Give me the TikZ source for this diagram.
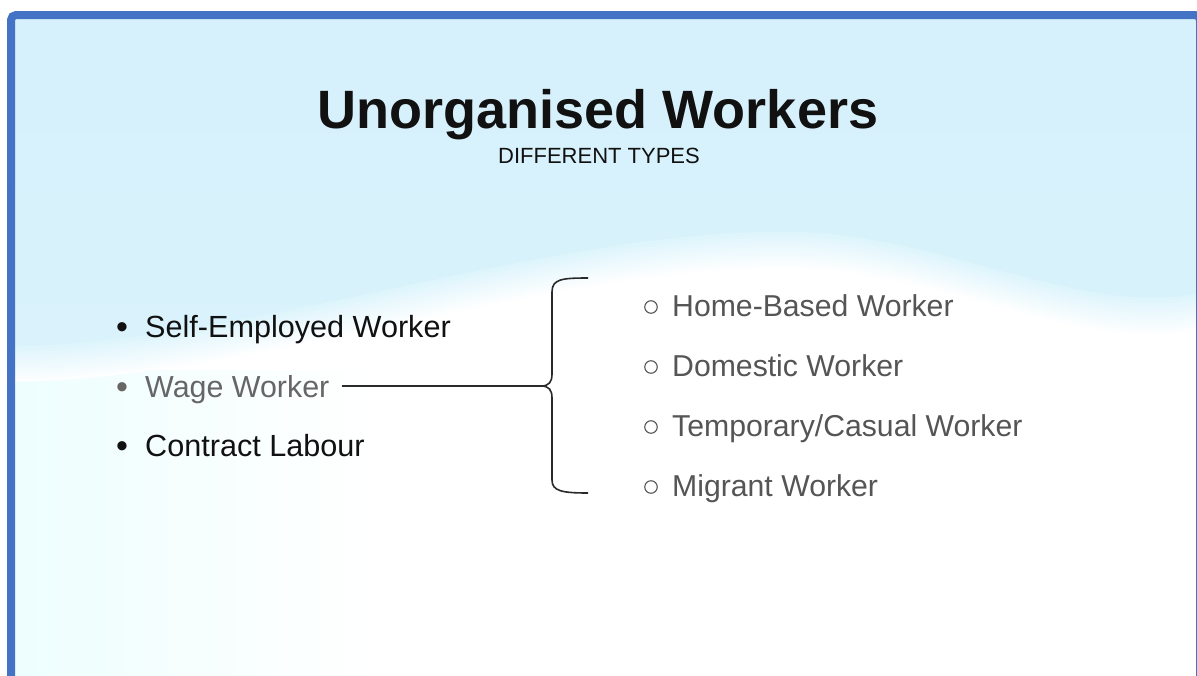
\documentclass[tikz,border=0pt]{standalone}
\usepackage{fontspec}
\setmainfont{Liberation Sans}
\definecolor{frameblue}{HTML}{4472C4}
\definecolor{skytop}{HTML}{D6F1FC}
\definecolor{skybot}{HTML}{DCF4FC}
\definecolor{lowcyan}{HTML}{EEFEFE}
\definecolor{txtdark}{HTML}{111111}
\definecolor{txtgray}{HTML}{666666}
\definecolor{subgray}{HTML}{555555}
\definecolor{linegray}{HTML}{2A2A2A}
\tikzset{
  titletext/.style={font=\fontsize{54}{60}\selectfont\bfseries, text=txtdark, inner sep=0pt},
  subtext/.style={font=\fontsize{22}{26}\selectfont, text=txtdark, inner sep=0pt},
  itemdark/.style={font=\fontsize{30.6}{36}\selectfont, text=txtdark, inner sep=0pt, anchor=base west},
  itemgray/.style={font=\fontsize{30.4}{36}\selectfont, text=txtgray, inner sep=0pt, anchor=base west},
  subitem/.style={font=\fontsize{30.2}{36}\selectfont, text=subgray, inner sep=0pt, anchor=base west},
  bulletmark/.style={font=\fontsize{34}{36}\selectfont, inner sep=0pt, anchor=base west},
  ring/.style={circle, draw=subgray, line width=1.1pt, minimum size=12.5pt, inner sep=0pt},
  bracepath/.style={draw=linegray, line width=1.6pt},
  connline/.style={draw=linegray, line width=1.2pt}
}
\newcommand{\wavepath}[1]{(15,382+#1) .. controls (250,380+#1) and (560,262+#1) .. (800,268+#1) .. controls (950,274+#1) and (1080,352+#1) .. (1197,330+#1) -- (1210,330+#1) -- (1210,700) -- (15,700) -- cycle}
\begin{document}
\begin{tikzpicture}[x=1pt,y=-1pt]
\useasboundingbox (0,0) rectangle (1197,675);
\begin{scope}
\clip (0,0) rectangle (1197,675);
\fill[white] (0,0) rectangle (1197,675);
\fill[top color=skytop, bottom color=skybot] (15,19) rectangle (1210,700);
\foreach \k in {0,...,11} {
  \pgfmathsetmacro\d{-36+3*\k}
  \pgfmathsetmacro\p{100-(\k+1)*100/13}
  \fill[skybot!\p!white] \wavepath{\d};
}
\fill[white] \wavepath{0};
\begin{scope}
\clip \wavepath{0};
\foreach \i in {0,...,15} {
  \pgfmathsetmacro\p{100-\i*100/16}
  \fill[lowcyan!\p!white] ({15+\i*22},370) rectangle ({15+(\i+1)*22+1},700);
}
\end{scope}
\draw[frameblue, line width=8pt, rounded corners=5pt] (11,700) -- (11,15) -- (1200,15) -- (1200,700);
\end{scope}

\node[titletext, anchor=base] (title) at (598,128) {Unorganised Workers};
\node[subtext, anchor=base] (sub) at (599,163) {DIFFERENT TYPES};

\node[bulletmark, text=txtdark] (b1) at (116,338) {•};
\node[itemdark] (self) at (145,337) {Self-Employed Worker};
\node[bulletmark, text=txtgray] (b2) at (116,398) {•};
\node[itemgray] (wage) at (145,397) {Wage Worker};
\node[bulletmark, text=txtdark] (b3) at (116,457) {•};
\node[itemdark] (contract) at (145,456) {Contract Labour};

\node[ring] (r1) at (651,307) {};
\node[subitem] (home) at (672,316) {Home-Based Worker};
\node[ring] (r2) at (651,367) {};
\node[subitem] (domestic) at (672,376) {Domestic Worker};
\node[ring] (r3) at (651,427) {};
\node[subitem] (temp) at (672,436) {Temporary/Casual Worker};
\node[ring] (r4) at (651,487) {};
\node[subitem] (migrant) at (672,496) {Migrant Worker};

\coordinate (cusp) at (541,386);
\coordinate (btop) at (588,278);
\coordinate (bbot) at (588,493);
\coordinate (wend) at ([xshift=12pt]wage.base east);

\draw[bracepath] (btop) .. controls (562,278) and (552,279) .. (552,292) -- (552,374) .. controls (552,382) and (549,386) .. (cusp) .. controls (549,386) and (552,390) .. (552,398) -- (552,480) .. controls (552,491) and (562,493) .. (bbot);
\draw[connline] (wend |- cusp) -- (cusp);
\end{tikzpicture}
\end{document}
